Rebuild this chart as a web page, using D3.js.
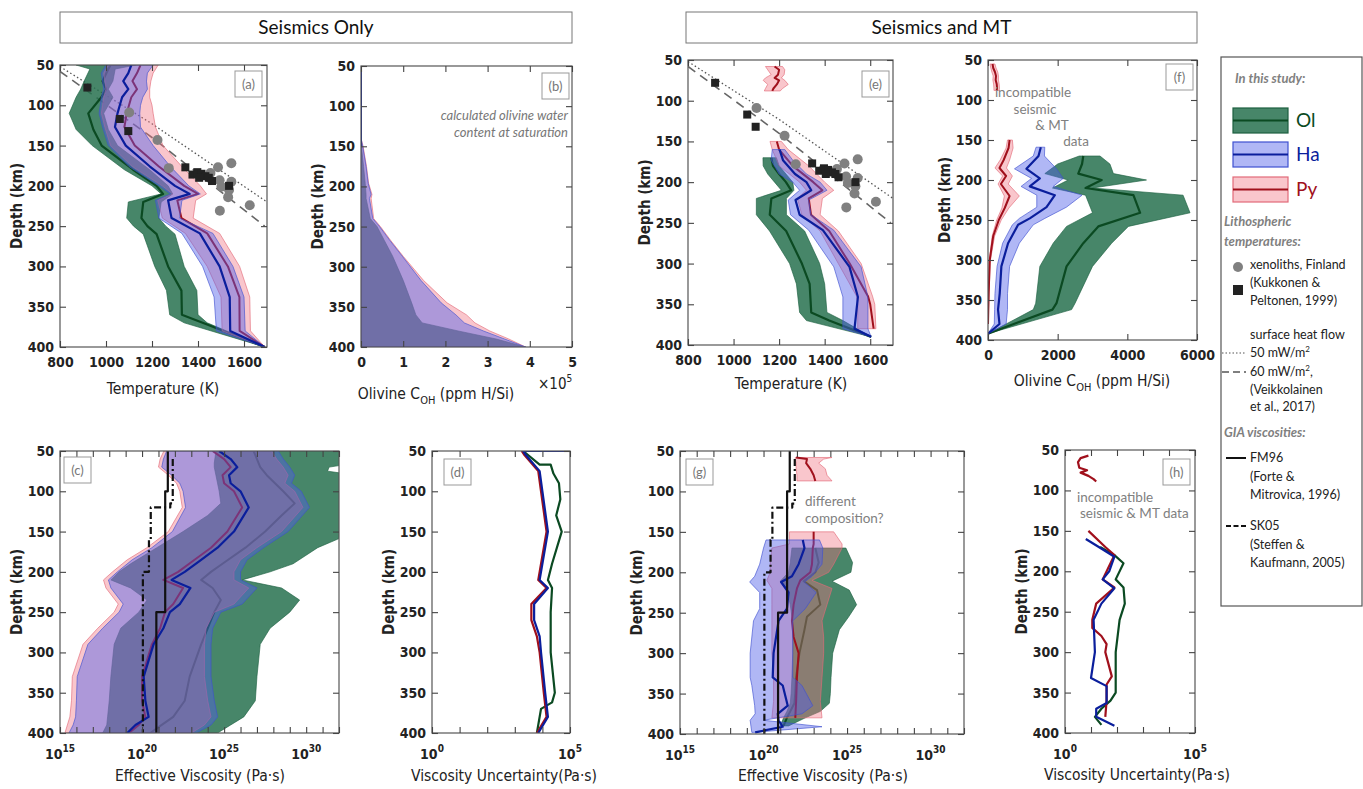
<!DOCTYPE html>
<html><head><meta charset="utf-8">
<script src="https://cdn.jsdelivr.net/npm/d3@7"></script>
<style>
body{margin:0;background:#fff;}
</style>
</head><body>
<script>
// ---------------- DATA ----------------
const depthTicks = [50,100,150,200,250,300,350,400];
const tempTicks = [800,1000,1200,1400,1600];
const cohTicksB = [0,1,2,3,4,5];
const cohTicksF = [0,2000,4000,6000];
const viscLabelExp = [15,20,25,30];
const uncLabelExp = [0,5];

// (a) Seismics only: temperature (K)
const aOlDepth = [50,55,70,80,90,110,130,150,180,200,210,220,240,250,260,300,330,360,370,400];
const aOlMed = [1020,1010,985,1000,980,923,945,981,1118,1220,1248,1162,1154,1180,1220,1270,1328,1330,1420,1690];
const aOlLo  = [870,930,905,890,870,840,870,940,1080,1200,1240,1097,1090,1120,1162,1212,1263,1277,1340,1690];
const aOlHi  = [1130,1040,1030,1010,1030,990,1010,1050,1190,1270,1290,1240,1230,1260,1300,1340,1395,1400,1440,1690];
const aHaDepth = [50,60,70,80,90,100,110,127,150,176,200,210,218,240,259,300,338,380,400];
const aHaMed = [1110,1097,1075,1097,1070,1060,1050,1039,1086,1191,1300,1364,1270,1285,1408,1494,1538,1540,1690];
const aHaLo  = [1000,980,985,990,980,975,970,985,1010,1100,1230,1280,1215,1230,1330,1420,1470,1480,1690];
const aHaHi  = [1205,1180,1176,1180,1160,1150,1147,1150,1205,1280,1360,1410,1330,1320,1465,1552,1600,1605,1690];
const aPyMed = [1150,1135,1115,1135,1110,1100,1090,1080,1125,1230,1340,1400,1310,1328,1440,1530,1580,1581,1690];
const aPyLo  = [1010,990,995,1000,990,985,980,995,1020,1115,1245,1290,1225,1245,1345,1440,1500,1505,1690];
const aPyHi  = [1227,1205,1195,1190,1190,1200,1205,1215,1248,1330,1410,1437,1390,1379,1494,1581,1625,1628,1690];

// xenolith temperatures (shared by a and e)
const xenoT = [1101,1224,1273,1487,1545,1454,1494,1545,1502,1535,1531,1625,1495];
const xenoD = [109,143,178,177,172,184,193,195,201,205,214,224,231];
const sqT = [919,1060,1097,1345,1376,1397,1415,1432,1447,1461,1405,1535];
const sqD = [78,117,132,177,186,183,185,188,190,194,190,200];
const hf50T = [800,1200,1700];
const hf50D = [52,123,220];
const hf60T = [800,1200,1690];
const hf60D = [58,140,250];

// (b) olivine water content (x 1e5 ppm H/Si) at saturation
const bDepth = [50,140,150,175,196,210,215,240,250,267,287,317,345,360,370,380,390,400];
const bPyHi = [0,0,0.05,0.13,0.18,0.26,0.24,0.30,0.46,0.70,1.00,1.48,2.04,2.50,2.70,3.05,3.50,3.90];
const bHaHi = [0,0,0.04,0.12,0.17,0.24,0.20,0.28,0.44,0.68,0.98,1.42,1.90,2.25,2.45,2.90,3.40,3.90];
const bOlHi = [0,0,0.01,0.06,0.10,0.12,0.12,0.22,0.38,0.55,0.75,1.00,1.20,1.30,1.45,2.30,3.20,3.90];

// (e) Seismics and MT: temperature
const ePyTopDepth = [58,62,68,72,75,80,85,88];
const ePyTopMed = [1180,1200,1195,1180,1200,1190,1175,1170];
const ePyTopLo  = [1140,1150,1165,1140,1130,1150,1140,1135];
const ePyTopHi  = [1215,1225,1222,1210,1225,1240,1215,1205];
const eOlDepth = [170,180,190,200,210,220,240,260,300,325,360,370,390];
const eOlMed = [1166,1173,1200,1230,1253,1166,1159,1231,1300,1334,1341,1420,1604];
const eOlLo  = [1129,1130,1150,1180,1210,1100,1100,1158,1246,1276,1290,1320,1604];
const eOlHi  = [1188,1200,1230,1260,1265,1232,1232,1312,1378,1400,1410,1480,1604];
const eHaDepth = [160,173,190,200,210,222,240,259,304,341,380,390];
const eHaMed = [1202,1217,1270,1320,1341,1272,1290,1392,1509,1546,1531,1604];
const eHaLo  = [1170,1165,1200,1260,1290,1240,1250,1330,1440,1480,1480,1604];
const eHaHi  = [1225,1260,1320,1380,1410,1330,1340,1440,1560,1590,1590,1604];
const ePyDepth = [150,160,180,200,210,220,240,260,300,340,350,380];
const ePyMed = [1190,1200,1260,1350,1390,1330,1340,1420,1510,1590,1600,1615];
const ePyLo  = [1160,1170,1200,1290,1320,1280,1300,1380,1460,1540,1545,1545];
const ePyHi  = [1210,1240,1330,1400,1440,1390,1380,1460,1560,1610,1620,1625];

// (f) olivine C_OH (ppm H/Si)
const fPyTopDepth = [55,60,65,70,75,80,85,88];
const fPyTopMed = [130,150,200,230,220,250,260,250];
const fPyTopLo  = [60,80,110,150,140,160,170,170];
const fPyTopHi  = [200,230,280,300,300,320,330,320];
const fPyDepth = [150,160,175,185,195,205,220,235,250,270,300,340,380];
const fPyMed = [620,590,450,330,520,370,620,480,310,150,50,20,0];
const fPyLo  = [560,520,350,200,420,290,470,400,250,120,40,15,0];
const fPyHi  = [700,720,620,530,700,580,900,600,380,190,70,30,0];
const fHaDepth = [159,170,186,198,208,219,234,248,256,279,308,342,362,380,392];
const fHaMed = [1516,1450,1104,1488,1200,1919,1680,1200,864,576,384,336,288,330,0];
const fHaLo  = [1380,1300,760,1250,950,1400,1400,900,700,420,260,200,190,180,0];
const fHaHi  = [1630,1620,1967,2159,1871,2700,2250,1632,1300,900,620,560,560,520,0];
const fOlDepth = [170,180,192,200,210,219,241,258,279,308,354,362,392];
const fOlMed = [2735,2700,2591,3263,2800,4175,4367,3167,2735,2255,1967,1850,0];
const fOlLo  = [2620,2000,1632,2300,1850,2800,3000,2255,1871,1488,1370,1300,0];
const fOlHi  = [3215,3500,3600,4550,3000,5600,5800,4030,3550,3000,2500,2400,0];

// (c) effective viscosity, log10(Pa s), seismics only
const cOlDepth = [50,65,70,75,80,100,115,130,150,170,190,200,210,220,235,250,270,290,330,360,380,390,400];
const cOlLo  = [24.5,24.4,24.4,24.45,24.5,24.7,24.8,24.0,22.5,20.9,19.3,18.6,18.1,19.3,20.3,19.8,18.7,18.3,18.1,18.0,17.9,17.85,17.6];
const cOlMed = [26.8,27.1,27.2,27.4,27.6,28.6,29.3,28.5,27.5,26.3,24.9,24.2,23.6,24.3,24.8,24.4,24.0,23.6,22.9,22.6,21.9,21.2,20.5];
const cOlHi  = [33,33,31.4,31.3,33,33,33,33,33,30.7,29.2,27.8,26.1,28.5,29.6,29.0,27.8,27.2,27.0,26.9,26.2,25.4,24.6];
const cDepth = [50,60,70,80,90,100,120,150,170,185,200,210,220,240,250,270,290,330,360,380,390,400];
const cHaMed = [24.7,25.4,25.8,25.3,25.4,26.0,26.5,25.6,24.6,23.6,22.6,21.8,22.95,22.3,21.7,21.3,20.7,20.1,20.2,20.4,19.6,19.1];
const cHaLo  = [21.5,21.3,21.2,21.8,22.3,22.5,22.65,21.85,20.6,19.4,18.5,17.95,18.1,18.85,18.6,17.6,16.7,16.05,16.0,15.95,15.8,15.55];
const cHaHi  = [28.3,28.6,29.0,29.3,29.1,29.7,30.2,28.9,27.4,26.4,26.0,26.0,27.0,26.1,24.8,24.3,24.2,24.2,24.4,24.6,24.2,23.3];
const cPyMed = [24.3,25.0,25.4,24.9,25.0,25.6,26.1,25.2,24.2,23.2,22.2,21.3,22.5,21.9,21.4,21.1,20.6,20.0,20.0,20.2,19.8,19.2];
const cPyLo  = [21.33,21.1,21.0,21.6,22.1,22.3,22.45,21.6,20.3,19.1,18.2,17.65,17.8,18.55,18.3,17.3,16.4,15.75,15.7,15.6,15.45,15.3];
const cPyHi  = [27.9,28.2,28.6,28.9,28.7,29.3,29.8,28.5,27.0,26.0,25.6,25.6,26.5,25.6,24.4,23.9,23.8,23.8,24.0,24.2,23.8,23.0];

// GIA viscosity profiles, log10(Pa s)
const fm96Depth = [50,100,100,250,250,400];
const fm96 = [21.57,21.57,21.41,21.41,20.87,20.87];
const sk05Depth = [60,115,115,120,120,160,160,200,200,400];
const sk05 = [21.87,21.87,21.72,21.72,20.53,20.53,20.42,20.42,20.05,20.05];

// (d) viscosity uncertainty, log10(Pa s)
const dHaDepth = [50,50,55,75,100,150,200,210,220,240,260,280,300,350,380,400];
const dHa = [5.0,3.3,3.4,3.9,4.0,4.2,3.95,3.9,4.2,3.7,3.7,3.9,3.95,4.1,4.2,3.85];
const dPyDepth = [50,55,75,100,150,200,210,220,240,260,280,300,350,380,400];
const dPy = [3.25,3.35,3.85,3.95,4.15,3.9,3.85,4.15,3.6,3.6,3.8,3.9,4.05,4.15,3.8];
const dOlDepth = [50,67,67,78,90,110,130,150,190,210,220,250,300,350,362,370,400];
const dOl = [3.3,3.9,4.3,4.4,4.6,4.65,4.5,4.7,4.35,4.2,4.35,4.3,4.3,4.45,4.35,3.95,3.8];

// (g) effective viscosity, seismics and MT
const gPyTopDepth = [58,60,65,72,80,87];
const gPyTopMed = [21.95,22.6,22.55,22.8,23.0,23.1];
const gPyTopLo  = [21.9,21.9,21.95,21.95,22.0,22.0];
const gPyTopHi  = [24.1,23.6,23.3,23.7,23.8,24.1];
const gPyDepth = [150,165,170,190,200,210,220,240,260,280,300,330,360,380];
const gPyMed = [23.0,23.0,22.95,22.9,22.8,22.2,22.0,21.8,21.7,21.8,22.1,22.0,21.95,21.9];
const gPyLo  = [21.55,21.55,20.5,20.4,20.4,20.2,20.5,20.5,20.5,20.5,20.5,20.6,20.6,20.5];
const gPyHi  = [24.2,24.7,24.7,24.2,23.9,22.9,24.1,23.8,23.5,23.6,23.6,23.5,23.4,23.5];
const gHaDepth = [160,170,190,205,212,225,245,260,300,330,340,365,375,383,391,398];
const gHaMed = [22.35,22.45,22.1,21.7,21.05,21.5,21.4,20.9,20.6,20.55,21.15,21.45,20.85,20.9,21.15,19.5];
const gHaLo  = [20.15,20.0,19.77,19.47,19.17,19.77,19.77,19.4,19.2,19.2,19.3,19.47,19.5,19.2,19.25,19.3];
const gHaHi  = [23.35,23.55,23.5,22.9,22.45,23.15,22.5,21.75,21.75,21.75,22.3,22.95,22.3,20.0,23.5,19.4];
const gOlDepth = [170,188,200,211,222,240,255,271,300,330,350,362,372,380,390];
const gOlMed = [23.1,23.3,23.1,22.4,23.2,23.4,22.6,22.45,22.15,21.95,21.9,21.85,21.6,21.4,21.2];
const gOlLo  = [21.7,21.6,21.5,21.0,21.4,21.6,21.7,21.75,21.75,21.7,21.65,21.6,21.4,21.2,21.0];
const gOlHi  = [24.93,25.33,25.23,24.1,25.13,25.57,25.1,24.54,24.14,24.04,24.0,23.94,23.4,22.5,21.5];

// (h) viscosity uncertainty, seismics and MT
const hPyTopDepth = [57,60,65,72,75,78,82,86,89];
const hPyTop = [0.9,0.6,0.5,0.55,0.85,0.6,0.9,1.1,1.2];
const hPyDepth = [150,170,180,190,210,220,240,260,270,280,290,300,330,340,360,380];
const hPy = [0.9,1.55,1.9,1.75,1.45,1.9,1.2,1.05,1.05,1.4,1.6,1.55,1.8,1.6,1.6,1.55];
const hHaDepth = [160,170,182,200,210,221,240,260,300,332,342,363,370,380,391];
const hHa = [0.8,1.3,1.9,1.7,1.45,1.9,1.4,1.1,1.15,1.0,1.6,1.6,1.2,1.2,1.9];
const hOlDepth = [170,180,190,210,220,240,260,300,350,360,370,380,390];
const hOl = [1.35,1.9,2.25,1.95,2.25,2.3,2.1,1.95,1.95,1.75,1.4,1.15,1.4];

// ---------------- STYLE ----------------
const COL = {
  Ol:{fill:"#27714f",op:0.85,line:"#0b4a22",edge:"#1d6040"},
  Ha:{fill:"#5060e8",op:0.45,line:"#0a1e9c",edge:"#3f50d0"},
  Py:{fill:"#f07080",op:0.40,line:"#a0101c",edge:"#e26a78"}
};
const W=1363,H=789;
const svg = d3.select("body").append("svg").attr("width",W).attr("height",H).style("background","#fff");
const NARROW = "'DejaVu Sans Condensed','DejaVu Sans',sans-serif";
const GEO = "Lato,'Open Sans',sans-serif";
const narrow = (sel,size,bold)=>sel.style("font-family",NARROW).style("font-stretch","condensed")
  .style("font-weight",bold?"bold":"normal").style("font-size",size+"px");

function rows(dep, ...cols){ return dep.map((d,i)=>({d, v:cols.map(c=>c[i])})); }

function makePanel(o){
  const x = (o.log ? d3.scaleLog() : d3.scaleLinear()).domain(o.xd).range([o.x0,o.x1]);
  const y = d3.scaleLinear().domain([50,400]).range([o.y0,o.y1]);
  const id = "clip_"+o.id;
  svg.append("clipPath").attr("id",id).append("rect")
     .attr("x",o.x0).attr("y",o.y0).attr("width",o.x1-o.x0).attr("height",o.y1-o.y0);
  const g = svg.append("g");
  const plot = g.append("g").attr("clip-path",`url(#${id})`);
  const X = o.log ? (v=>x(Math.pow(10,v))) : (v=>x(v));
  return {x,y,X,g,plot,o};
}

function band(p, sp, dep, lo, hi){
  const r = rows(dep, lo||dep.map(()=>0), hi);
  const a = d3.area().y(d=>p.y(d.d)).x0(d=>p.X(d.v[0])).x1(d=>p.X(d.v[1]));
  p.plot.append("path").attr("d",a(r)).attr("fill",COL[sp].fill).attr("fill-opacity",COL[sp].op)
    .attr("stroke",COL[sp].edge).attr("stroke-width",0.8).attr("stroke-opacity",0.8);
}
function line(p, dep, vals, color, w, dash){
  const r = rows(dep, vals);
  const l = d3.line().y(d=>p.y(d.d)).x(d=>p.X(d.v[0]));
  const path = p.plot.append("path").attr("d",l(r)).attr("fill","none").attr("stroke",color)
    .attr("stroke-width",w||2).attr("stroke-linejoin","round");
  if(dash) path.attr("stroke-dasharray",dash);
  return path;
}

function finish(p, cfg){
  const o=p.o, g=p.g;
  g.append("rect").attr("x",o.x0).attr("y",o.y0).attr("width",o.x1-o.x0).attr("height",o.y1-o.y0)
    .attr("fill","none").attr("stroke","#555").attr("stroke-width",1.2);
  const tickSty = sel=>{ sel.select(".domain").remove(); sel.selectAll(".tick line").attr("stroke","#444").attr("stroke-width",1.1); };
  g.append("g").attr("transform",`translate(${o.x0},0)`)
    .call(d3.axisLeft(p.y).tickValues(depthTicks).tickSize(-6).tickPadding(6)).call(tickSty)
    .selectAll(".tick text").call(narrow,14,true).attr("fill","#222");
  g.append("g").attr("transform",`translate(${o.x1},0)`)
    .call(d3.axisRight(p.y).tickValues(depthTicks).tickSize(-6).tickFormat("")).call(tickSty);
  const tv = cfg.xTicks;
  g.append("g").attr("transform",`translate(0,${o.y0})`)
    .call(d3.axisTop(p.x).tickValues(tv).tickSize(-6).tickFormat("")).call(tickSty);
  const bx = g.append("g").attr("transform",`translate(0,${o.y1})`)
    .call(d3.axisBottom(p.x).tickValues(tv).tickSize(-6).tickPadding(10).tickFormat(o.log?"":(cfg.fmt||(d=>d)))).call(tickSty);
  bx.selectAll(".tick text").call(narrow,14,true).attr("fill","#222");
  if(o.log){
    cfg.labelExp.forEach(e=>{
      const t = g.append("text").attr("x",p.x(Math.pow(10,e))).attr("y",o.y1+26)
        .attr("text-anchor","middle").call(narrow,14,true).attr("fill","#222");
      t.append("tspan").text("10");
      t.append("tspan").attr("dy",-7).style("font-size","10px").text(e);
    });
  }
  g.append("text").attr("transform",`translate(${o.x0-38},${(o.y0+o.y1)/2}) rotate(-90)`)
    .attr("text-anchor","middle").call(narrow,15,true).attr("fill","#222")
    .text("Depth (km)");
  if(cfg.xlabel){
    const t = g.append("text").attr("x",cfg.xlx).attr("y",cfg.xly).attr("text-anchor","middle")
      .call(narrow,15.5,false).attr("fill","#222");
    cfg.xlabel(t);
  }
  const b = cfg.box;
  g.append("rect").attr("x",b[0]).attr("y",b[1]).attr("width",27).attr("height",26)
    .attr("fill","#fff").attr("stroke","#999").attr("stroke-width",1);
  g.append("text").attr("x",b[0]+13.5).attr("y",b[1]+18).attr("text-anchor","middle")
    .style("font-family",GEO).style("font-size","13px").attr("fill","#777").text(cfg.letter);
}

const cohLabel = t=>{ t.append("tspan").text("Olivine C"); t.append("tspan").attr("dy",5).style("font-size","11px").text("OH");
  t.append("tspan").attr("dy",-5).text(" (ppm H/Si)"); };

function drawTemp(p){
  p.plot.append("path").attr("d", d3.line().x((d,i)=>p.x(hf50T[i])).y(d=>p.y(d))(hf50D))
    .attr("fill","none").attr("stroke","#555").attr("stroke-width",1.3).attr("stroke-dasharray","1.5,2.5");
  p.plot.append("path").attr("d", d3.line().x((d,i)=>p.x(hf60T[i])).y(d=>p.y(d))(hf60D))
    .attr("fill","none").attr("stroke","#666").attr("stroke-width",1.6).attr("stroke-dasharray","9,6");
}
function drawXeno(p){
  p.plot.selectAll(null).data(xenoT.map((t,i)=>[t,xenoD[i]])).enter().append("circle")
    .attr("cx",d=>p.x(d[0])).attr("cy",d=>p.y(d[1])).attr("r",5).attr("fill","#808080");
  p.plot.selectAll(null).data(sqT.map((t,i)=>[t,sqD[i]])).enter().append("rect")
    .attr("x",d=>p.x(d[0])-4).attr("y",d=>p.y(d[1])-4).attr("width",8).attr("height",8).attr("fill","#222");
}

// ---------------- PANEL (a) ----------------
const pa = makePanel({id:"a",x0:60,x1:267,y0:65,y1:347,xd:[800,1700]});
drawTemp(pa);
band(pa,"Ol",aOlDepth,aOlLo,aOlHi); line(pa,aOlDepth,aOlMed,COL.Ol.line,2.2);
band(pa,"Py",aHaDepth,aPyLo,aPyHi); line(pa,aHaDepth,aPyMed,COL.Py.line,2);
band(pa,"Ha",aHaDepth,aHaLo,aHaHi); line(pa,aHaDepth,aHaMed,COL.Ha.line,2.2);
drawXeno(pa);
finish(pa,{xTicks:tempTicks,xlabel:t=>t.text("Temperature (K)"),xlx:163,xly:394,box:[235,71],letter:"(a)"});

// ---------------- PANEL (b) ----------------
const pb = makePanel({id:"b",x0:361,x1:572,y0:66,y1:347,xd:[0,5]});
band(pb,"Ol",bDepth,null,bOlHi);
band(pb,"Py",bDepth,null,bPyHi);
band(pb,"Ha",bDepth,null,bHaHi);
line(pb,[50,150],[0,0],COL.Ha.line,2);
finish(pb,{xTicks:cohTicksB,xlabel:cohLabel,xlx:436,xly:399,box:[542,73],letter:"(b)"});
pb.g.append("text").attr("x",538).attr("y",389).call(narrow,15,false).attr("fill","#222")
  .call(t=>{t.append("tspan").text("\u00d710"); t.append("tspan").attr("dy",-7).style("font-size","10px").text("5");});
[["calculated olivine water",120],["content at saturation",137]].forEach(s=>
  pb.g.append("text").attr("x",568).attr("y",s[1]).attr("text-anchor","end").style("font-family",GEO)
    .style("font-style","italic").style("font-size","13px").attr("fill","#777").text(s[0]));

// ---------------- PANEL (e) ----------------
const pe = makePanel({id:"e",x0:688,x1:893,y0:60,y1:345,xd:[800,1700]});
drawTemp(pe);
band(pe,"Ol",eOlDepth,eOlLo,eOlHi); line(pe,eOlDepth,eOlMed,COL.Ol.line,2.2);
band(pe,"Py",ePyTopDepth,ePyTopLo,ePyTopHi); line(pe,ePyTopDepth,ePyTopMed,COL.Py.line,2);
band(pe,"Py",ePyDepth,ePyLo,ePyHi); line(pe,ePyDepth,ePyMed,COL.Py.line,2);
band(pe,"Ha",eHaDepth,eHaLo,eHaHi); line(pe,eHaDepth,eHaMed,COL.Ha.line,2.2);
drawXeno(pe);
finish(pe,{xTicks:tempTicks,xlabel:t=>t.text("Temperature (K)"),xlx:791,xly:389,box:[862,71],letter:"(e)"});

// ---------------- PANEL (f) ----------------
const pf = makePanel({id:"f",x0:988,x1:1197,y0:60,y1:340,xd:[0,6000]});
band(pf,"Ol",fOlDepth,fOlLo,fOlHi); line(pf,fOlDepth,fOlMed,COL.Ol.line,2.2);
band(pf,"Py",fPyTopDepth,fPyTopLo,fPyTopHi); line(pf,fPyTopDepth,fPyTopMed,COL.Py.line,2);
band(pf,"Py",fPyDepth,fPyLo,fPyHi); line(pf,fPyDepth,fPyMed,COL.Py.line,2);
band(pf,"Ha",fHaDepth,fHaLo,fHaHi); line(pf,fHaDepth,fHaMed,COL.Ha.line,2.2);
finish(pf,{xTicks:cohTicksF,xlabel:cohLabel,xlx:1092,xly:386,box:[1166,64],letter:"(f)"});
[["incompatible",1033,97],["seismic",1035,114],["& MT",1052,130],["data",1076,146]].forEach(s=>
  pf.g.append("text").attr("x",s[1]).attr("y",s[2]).attr("text-anchor","middle").style("font-family",GEO)
    .style("font-size","13.5px").attr("fill","#808080").text(s[0]));

// ---------------- PANEL (c) ----------------
const pc = makePanel({id:"c",x0:60,x1:339,y0:451,y1:733,xd:[1e15,1e32],log:true});
band(pc,"Ol",cOlDepth,cOlLo,cOlHi); line(pc,cOlDepth,cOlMed,COL.Ol.line,2);
band(pc,"Py",cDepth,cPyLo,cPyHi); line(pc,cDepth,cPyMed,COL.Py.line,2);
band(pc,"Ha",cDepth,cHaLo,cHaHi); line(pc,cDepth,cHaMed,COL.Ha.line,2.2);
line(pc,sk05Depth,sk05,"#111",2.2,"7,3,2,3");
line(pc,fm96Depth,fm96,"#111",2.2);
finish(pc,{xTicks:d3.range(15,33).map(e=>Math.pow(10,e)),labelExp:viscLabelExp,
  xlabel:t=>t.text("Effective Viscosity (Pa\u00b7s)"),xlx:200,xly:781,box:[64,457],letter:"(c)"});

// ---------------- PANEL (d) ----------------
const pd = makePanel({id:"d",x0:432,x1:570,y0:451,y1:733,xd:[1,1e5],log:true});
line(pd,dOlDepth,dOl,COL.Ol.line,2.2);
line(pd,dPyDepth,dPy,COL.Py.line,2.2);
line(pd,dHaDepth,dHa,COL.Ha.line,2.2);
finish(pd,{xTicks:d3.range(0,6).map(e=>Math.pow(10,e)),labelExp:uncLabelExp,
  xlabel:t=>t.text("Viscosity Uncertainty(Pa\u00b7s)"),xlx:504,xly:781,box:[444,459],letter:"(d)"});

// ---------------- PANEL (g) ----------------
const pg = makePanel({id:"g",x0:680,x1:964,y0:451,y1:734,xd:[1e15,1e32],log:true});
band(pg,"Ol",gOlDepth,gOlLo,gOlHi); line(pg,gOlDepth,gOlMed,COL.Ol.line,2);
band(pg,"Py",gPyTopDepth,gPyTopLo,gPyTopHi); line(pg,gPyTopDepth,gPyTopMed,COL.Py.line,2);
band(pg,"Py",gPyDepth,gPyLo,gPyHi); line(pg,gPyDepth,gPyMed,COL.Py.line,2);
band(pg,"Ha",gHaDepth,gHaLo,gHaHi); line(pg,gHaDepth,gHaMed,COL.Ha.line,2.2);
line(pg,sk05Depth,sk05,"#111",2.2,"7,3,2,3");
line(pg,fm96Depth,fm96,"#111",2.2);
finish(pg,{xTicks:d3.range(15,33).map(e=>Math.pow(10,e)),labelExp:viscLabelExp,
  xlabel:t=>t.text("Effective Viscosity (Pa\u00b7s)"),xlx:823,xly:781,box:[686,459],letter:"(g)"});
[["different",805,506],["composition?",805,523]].forEach(s=>
  pg.g.append("text").attr("x",s[1]).attr("y",s[2]).style("font-family",GEO).style("font-size","13.5px").attr("fill","#808080").text(s[0]));

// ---------------- PANEL (h) ----------------
const ph = makePanel({id:"h",x0:1065,x1:1195,y0:450,y1:733,xd:[1,1e5],log:true});
line(ph,hOlDepth,hOl,COL.Ol.line,2.2);
line(ph,hPyTopDepth,hPyTop,COL.Py.line,2.2);
line(ph,hPyDepth,hPy,COL.Py.line,2.2);
line(ph,hHaDepth,hHa,COL.Ha.line,2.2);
finish(ph,{xTicks:d3.range(0,6).map(e=>Math.pow(10,e)),labelExp:uncLabelExp,
  xlabel:t=>t.text("Viscosity Uncertainty(Pa\u00b7s)"),xlx:1137,xly:780,box:[1163,459],letter:"(h)"});
[["incompatible",1077,502],["seismic & MT data",1080,518]].forEach(s=>
  ph.g.append("text").attr("x",s[1]).attr("y",s[2]).style("font-family",GEO).style("font-size","13.5px").attr("fill","#808080").text(s[0]));

// ---------------- TITLES ----------------
[["Seismics Only",60,572],["Seismics and MT",686,1197]].forEach(s=>{
  svg.append("rect").attr("x",s[1]).attr("y",12).attr("width",s[2]-s[1]).attr("height",31)
    .attr("fill","#fff").attr("stroke","#777").attr("stroke-width",1);
  svg.append("text").attr("x",(s[1]+s[2])/2).attr("y",34).attr("text-anchor","middle")
    .style("font-family",GEO).style("font-size","19px").attr("fill","#111").text(s[0]);
});

// ---------------- LEGEND ----------------
const lg = svg.append("g");
lg.append("rect").attr("x",1221).attr("y",57).attr("width",141).attr("height",549).attr("fill","#fff").attr("stroke","#555").attr("stroke-width",1.2);
const ltxt=(x,y,s,opt={})=>{const t=lg.append("text").attr("x",x).attr("y",y).style("font-family",GEO)
  .style("font-size",(opt.size||12.5)+"px").attr("fill",opt.color||"#222").text(s);
  if(opt.it) t.style("font-style","italic").style("font-weight","bold"); return t;};
ltxt(1235,83,"In this study:",{it:1,color:"#808080",size:13});
[["Ol",108],["Ha",142],["Py",177]].forEach(s=>{
  const c=COL[s[0]];
  lg.append("rect").attr("x",1233).attr("y",s[1]).attr("width",55).attr("height",25).attr("fill","#fff");
  lg.append("rect").attr("x",1233).attr("y",s[1]).attr("width",55).attr("height",25)
    .attr("fill",c.fill).attr("fill-opacity",c.op).attr("stroke",c.edge).attr("stroke-width",1.2);
  lg.append("line").attr("x1",1233).attr("x2",1288).attr("y1",s[1]+12.5).attr("y2",s[1]+12.5).attr("stroke",c.line).attr("stroke-width",2);
  ltxt(1296,s[1]+19,s[0],{size:19,color:c.line});
});
ltxt(1224,226,"Lithospheric",{it:1,color:"#808080",size:13});
ltxt(1224,246,"temperatures:",{it:1,color:"#808080",size:13});
lg.append("circle").attr("cx",1238).attr("cy",267).attr("r",5).attr("fill","#808080");
lg.append("rect").attr("x",1233).attr("y",285).attr("width",10).attr("height",10).attr("fill","#222");
ltxt(1250,269,"xenoliths, Finland"); ltxt(1250,287,"(Kukkonen &"); ltxt(1250,305,"Peltonen, 1999)");
ltxt(1250,339,"surface heat flow");
lg.append("line").attr("x1",1222).attr("x2",1246).attr("y1",353).attr("y2",353).attr("stroke","#555").attr("stroke-width",1.2).attr("stroke-dasharray","1.5,2");
lg.append("line").attr("x1",1222).attr("x2",1246).attr("y1",372).attr("y2",372).attr("stroke","#555").attr("stroke-width",1.4).attr("stroke-dasharray","7,4");
ltxt(1250,357,"50 mW/m").append("tspan").attr("dy",-5).style("font-size","8px").text("2");
ltxt(1250,376,"60 mW/m").call(t=>{t.append("tspan").attr("dy",-5).style("font-size","8px").text("2");t.append("tspan").attr("dy",5).text(",");});
ltxt(1250,394,"(Veikkolainen"); ltxt(1250,411,"et al., 2017)");
ltxt(1224,437,"GIA viscosities:",{it:1,color:"#808080",size:13});
lg.append("line").attr("x1",1226).attr("x2",1246).attr("y1",458).attr("y2",458).attr("stroke","#111").attr("stroke-width",2);
ltxt(1250,462,"FM96"); ltxt(1250,481,"(Forte &"); ltxt(1250,499,"Mitrovica, 1996)");
lg.append("line").attr("x1",1226).attr("x2",1246).attr("y1",526).attr("y2",526).attr("stroke","#111").attr("stroke-width",2.2).attr("stroke-dasharray","5,2.5");
ltxt(1250,530,"SK05"); ltxt(1250,549,"(Steffen &"); ltxt(1250,567,"Kaufmann, 2005)");
</script>
</body></html>
